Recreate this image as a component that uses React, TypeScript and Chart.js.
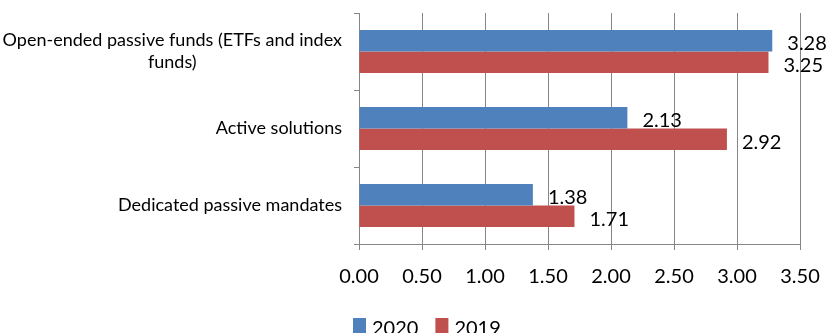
import React, { useEffect, useRef } from "react";
import { Chart, registerables } from "chart.js";

Chart.register(...registerables);

const categories: string[][] = [
  ["Open-ended passive funds (ETFs and index", "funds)"],
  ["Active solutions"],
  ["Dedicated passive mandates"],
];
const seriesNames = ["2020", "2019"];
const values2020 = [3.28, 2.13, 1.38];
const values2019 = [3.25, 2.92, 1.71];
const seriesColors = ["#4F81BD", "#C0504D"];
const xTicksMin = 0;
const xTicksMax = 3.5;
const xTicksStep = 0.5;

const GRID = "#868686";
const FONT = "Lato";

const customText = {
  id: "customText",
  afterDraw(chart: any) {
    const ctx = chart.ctx;
    ctx.save();
    // category labels
    const yScale = chart.scales.y;
    ctx.font = `18px ${FONT}`;
    ctx.fillStyle = "#000";
    ctx.textBaseline = "middle";
    ctx.textAlign = "center";
    const rightEdge = yScale.right - 17;
    const lh = 22;
    categories.forEach((lines, i) => {
      const cy = yScale.getPixelForValue(i);
      const w = Math.max(...lines.map((l) => ctx.measureText(l).width));
      const cx = rightEdge - w / 2;
      const y0 = cy - ((lines.length - 1) * lh) / 2;
      lines.forEach((l, j) => ctx.fillText(l, cx, y0 + j * lh));
    });
    // data labels
    ctx.font = `20px ${FONT}`;
    ctx.textAlign = "left";
    chart.data.datasets.forEach((ds: any, di: number) => {
      const meta = chart.getDatasetMeta(di);
      meta.data.forEach((el: any, i: number) => {
        ctx.fillText(Number(ds.data[i]).toFixed(2), el.x + 15, el.y + 3);
      });
    });
    // legend
    ctx.font = `20px ${FONT}`;
    ctx.textBaseline = "alphabetic";
    let x = 353;
    seriesNames.forEach((n, i) => {
      ctx.fillStyle = seriesColors[i];
      ctx.fillRect(x, 318, 13, 16);
      ctx.fillStyle = "#000";
      ctx.fillText(n, x + 19, 334.5);
      x += 19 + ctx.measureText(n).width + 17;
    });
    ctx.restore();
  },
};

export default function App() {
  const ref = useRef<HTMLCanvasElement>(null);
  useEffect(() => {
    if (!ref.current) return;
    const chart = new Chart(ref.current, {
      type: "bar",
      data: {
        labels: categories.map((c) => c.join(" ")),
        datasets: [
          { label: seriesNames[0], data: values2020, backgroundColor: seriesColors[0], borderWidth: 0 },
          { label: seriesNames[1], data: values2019, backgroundColor: seriesColors[1], borderWidth: 0 },
        ],
      },
      options: {
        indexAxis: "y",
        animation: false,
        responsive: false,
        devicePixelRatio: 1,
        layout: { padding: { top: 13, right: 31, left: 0, bottom: 0 } },
        datasets: { bar: { categoryPercentage: 0.56, barPercentage: 1.0 } },
        plugins: { legend: { display: false }, tooltip: { enabled: false } },
        scales: {
          y: {
            type: "category",
            offset: true,
            grid: { offset: true, drawOnChartArea: false, drawTicks: true, tickLength: 5, color: GRID },
            border: { display: true, color: GRID },
            ticks: { display: false },
            afterFit: (s: any) => { s.width = 359; s.paddingTop = 0; s.paddingBottom = 0; },
          },
          x: {
            type: "linear",
            min: xTicksMin,
            max: xTicksMax,
            ticks: {
              stepSize: xTicksStep,
              callback: (v: any) => Number(v).toFixed(2),
              font: { family: FONT, size: 20 },
              color: "#000",
              padding: 15,
            },
            grid: { color: GRID, drawTicks: true, tickLength: 6 },
            border: { display: true, color: GRID },
            afterFit: (s: any) => { s.height = 89; s.paddingLeft = 0; s.paddingRight = 0; },
          },
        },
      },
      plugins: [customText],
    });
    return () => chart.destroy();
  }, []);
  return (
    <div style={{ position: "absolute", left: 0, top: 0, width: 831, height: 333 }}>
      <canvas ref={ref} width={831} height={333} />
    </div>
  );
}
